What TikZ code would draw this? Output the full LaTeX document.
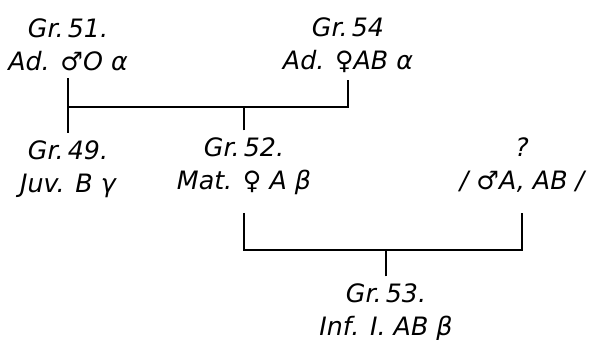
\documentclass[tikz,border=0pt]{standalone}
\usepackage{fontspec}
\setmainfont{DejaVu Sans}
\newfontfamily\symfont{DejaVu Sans}
\usepackage{tikz}
\usetikzlibrary{positioning}
\newcommand{\male}{{\upshape\symfont\bfseries ♂}}
\newcommand{\female}{{\upshape\symfont\bfseries ♀}}

\begin{document}
\begin{tikzpicture}[x=0.025cm, y=-0.025cm,
		ind/.style={align=center, inner sep=0pt, outer sep=5pt, font=\fontsize{18}{23.5}\selectfont\itshape},
		kin/.style={line width=1.4pt}]
			\useasboundingbox (0,0) rectangle (604,340);
			\node[ind] (g51) at (68,45) {Gr.\,51.\\Ad. \male O α};
			\node[ind] (g54) at (348,45) {Gr.\,54\\Ad. \female AB α};
			\node[ind] (g49) at (68,169) {Gr.\,49.\\Juv. B γ};
			\node[ind] (g52) at (244,166) {Gr.\,52.\\Mat. \female\ A β};
			\node[ind] (dad) at (522,165) {?\\/ \male A, AB /};
			\node[ind] (g53) at (386,312) {Gr.\,53.\\Inf. I. AB β};
			\coordinate (top) at (0,107);
			\coordinate (low) at (0,250);

			\draw[kin] (g51) -- (g49);
			\draw[kin] (g51 |- top) -| (g54);
			\draw[kin] (g52) -- (g52 |- top);
			\draw[kin, shorten <=8pt, shorten >=10pt] (g52) |- (dad |- low) -- (dad);
			\draw[kin] (g53) -- (g53 |- low);
		\end{tikzpicture}
\end{document}
